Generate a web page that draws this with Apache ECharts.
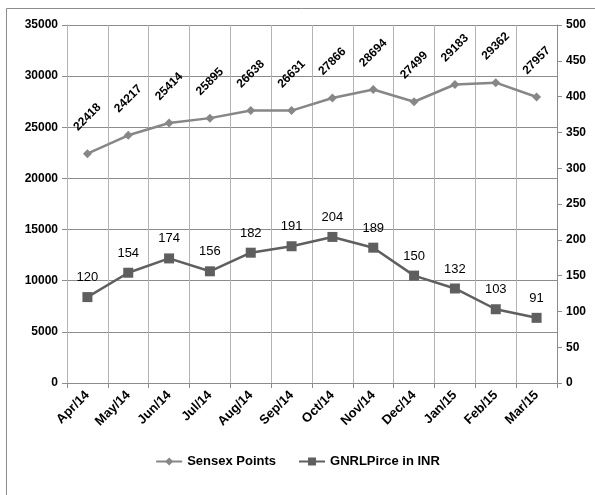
<!DOCTYPE html>
<html><head><meta charset="utf-8">
<script src="https://cdn.jsdelivr.net/npm/echarts@6/dist/echarts.min.js"></script>
<style>html,body{margin:0;padding:0;background:#fff}#c{width:595px;height:495px}</style>
</head><body><div id="c"></div>
<script>
const categories = ['Apr/14','May/14','Jun/14','Jul/14','Aug/14','Sep/14','Oct/14','Nov/14','Dec/14','Jan/15','Feb/15','Mar/15'];
const sensexPoints = [22418,24217,25414,25895,26638,26631,27866,28694,27499,29183,29362,27957];
const gnrlPrice = [120,154,174,156,182,191,204,189,150,132,103,91];
const leftTicks = {min:0, max:35000, interval:5000};
const rightTicks = {min:0, max:500, interval:50};

const FONT = '"Liberation Sans", "DejaVu Sans", sans-serif';
const chart = echarts.init(document.getElementById('c'));
chart.setOption({
  animation:false,
  backgroundColor:'#fff',
  graphic:[{type:'rect', shape:{x:6.5,y:8.5,width:600,height:500}, style:{fill:'none', stroke:'#8c8c8c', lineWidth:1}}],
  grid:{left:67, right:38, top:25, bottom:112},
  legend:{
    bottom:22, left:'center', itemWidth:26, itemHeight:10, itemGap:22,
    textStyle:{fontFamily:FONT, fontSize:13, fontWeight:'bold', color:'#000'},
    data:['Sensex Points','GNRLPirce in INR']
  },
  xAxis:{
    type:'category', data:categories, boundaryGap:true,
    axisLine:{show:true, lineStyle:{color:'#8c8c8c'}},
    axisTick:{show:true, length:5, lineStyle:{color:'#8c8c8c'}},
    splitLine:{show:true, lineStyle:{color:'#b4b4b4'}},
    axisLabel:{rotate:45, margin:10, interval:0, fontFamily:FONT, fontSize:13, fontWeight:'bold', color:'#000'}
  },
  yAxis:[
    {type:'value', min:leftTicks.min, max:leftTicks.max, interval:leftTicks.interval, position:'left',
     axisLine:{show:true, lineStyle:{color:'#b4b4b4'}},
     axisTick:{show:true, length:5, lineStyle:{color:'#8c8c8c'}},
     splitLine:{show:true, lineStyle:{color:'#8c8c8c'}},
     axisLabel:{margin:9, formatter:v=>String(v), fontFamily:FONT, fontSize:12, fontWeight:'bold', color:'#000'}},
    {type:'value', min:rightTicks.min, max:rightTicks.max, interval:rightTicks.interval, position:'right',
     axisLine:{show:true, lineStyle:{color:'#8c8c8c'}},
     axisTick:{show:true, length:5, lineStyle:{color:'#8c8c8c'}},
     splitLine:{show:false},
     axisLabel:{margin:9, formatter:v=>String(v), fontFamily:FONT, fontSize:12, fontWeight:'bold', color:'#000'}}
  ],
  series:[
    {name:'Sensex Points', type:'line', yAxisIndex:0, data:sensexPoints,
     symbol:'diamond', symbolSize:9,
     lineStyle:{color:'#878787', width:2.5}, itemStyle:{color:'#878787'},
     label:{show:true, position:'top', distance:32, rotate:45, align:'center', verticalAlign:'middle',
            fontFamily:FONT, fontSize:12, fontWeight:'bold', color:'#000'}},
    {name:'GNRLPirce in INR', type:'line', yAxisIndex:1, data:gnrlPrice,
     symbol:'rect', symbolSize:10,
     lineStyle:{color:'#5f5f5f', width:2.5}, itemStyle:{color:'#5f5f5f'},
     label:{show:true, position:'top', distance:8,
            fontFamily:FONT, fontSize:13, color:'#000'}}
  ]
});
</script></body></html>
